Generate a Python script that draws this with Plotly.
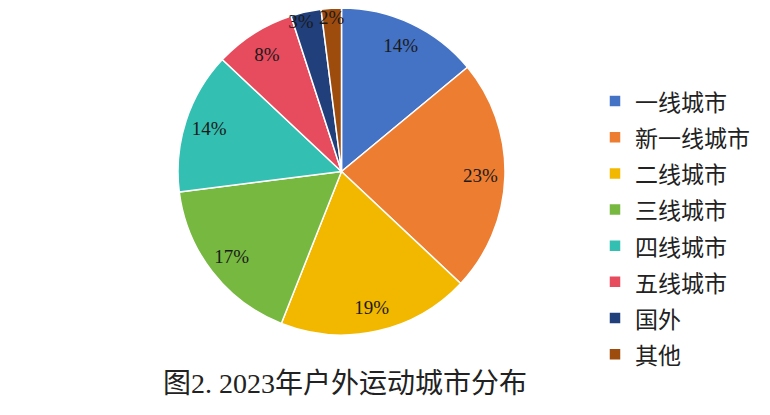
import plotly.graph_objects as go

categories = ["一线城市", "新一线城市", "二线城市", "三线城市", "四线城市", "五线城市", "国外", "其他"]
values = [14, 23, 19, 17, 14, 8, 3, 2]
colors = ["#4472C4", "#ED7D31", "#F2B800", "#76B840", "#33BFB1", "#E64B5E", "#203F7B", "#9E4B0E"]
title_text = "图2. 2023年户外运动城市分布"

W, H = 770, 415
OFF = 8  # page body margin
cx, cy, R = 341.5 - OFF, 171.5 - OFF, 163.5
dom = dict(x=[(cx - R) / W, (cx + R) / W], y=[1 - (cy + R) / H, 1 - (cy - R) / H])

label_font = dict(family="Liberation Serif", size=19, color="#1a1a1a")
pct = [f"{v}%" for v in values]
small = [v < 5 for v in values]
NB = "\u00a0"
# small labels sit side by side at the rim; pad the first so they do not collide
small_txt = [p + NB * 3 if v == 3 else p for v, p in zip(values, pct)]

fig = go.Figure()
# coloured pie with legend
fig.add_trace(go.Pie(
    labels=[f'<span style="font-size:23px">{c}</span>' for c in categories],
    values=values,
    sort=False,
    direction="clockwise",
    rotation=0,
    marker=dict(colors=colors, line=dict(color="white", width=1.5)),
    textinfo="none",
    domain=dom,
    hoverinfo="label+percent",
))
# transparent ring carrying the main percentage labels
fig.add_trace(go.Pie(
    labels=categories, values=values, sort=False, direction="clockwise", rotation=0,
    hole=0.7,
    marker=dict(colors=["rgba(0,0,0,0)"] * len(values), line=dict(width=0)),
    text=["" if s else p for s, p in zip(small, pct)],
    textinfo="text",
    textposition="inside",
    insidetextorientation="horizontal",
    textfont=label_font,
    domain=dom, showlegend=False, hoverinfo="skip",
))
# thin outer ring for labels of the smallest slices
fig.add_trace(go.Pie(
    labels=categories, values=values, sort=False, direction="clockwise", rotation=0,
    hole=0.88,
    marker=dict(colors=["rgba(0,0,0,0)"] * len(values), line=dict(width=0)),
    text=[t if s else "" for s, t in zip(small, small_txt)],
    textinfo="text",
    textposition="inside",
    insidetextorientation="horizontal",
    textfont=label_font,
    domain=dom, showlegend=False, hoverinfo="skip",
))

fig.update_layout(
    width=W, height=H,
    margin=dict(l=0, r=0, t=0, b=0),
    paper_bgcolor="white",
    plot_bgcolor="white",
    uniformtext=dict(minsize=19, mode="show"),
    showlegend=True,
    legend=dict(
        x=587 / W, xanchor="left",
        y=1 - 70 / H, yanchor="top",
        font=dict(family="Noto Sans CJK SC", size=25.5, color="#222222"),
        bgcolor="rgba(0,0,0,0)",
        traceorder="normal",
    ),
    annotations=[
        dict(text=title_text, x=337 / W, y=1 - 375 / H, xref="paper", yref="paper",
             xanchor="center", yanchor="middle", showarrow=False,
             font=dict(family="Liberation Serif, Noto Sans CJK SC", size=28, color="#222222")),
        dict(text="(", x=757 / W, y=1 - 202 / H, xref="paper", yref="paper",
             xanchor="left", yanchor="middle", showarrow=False,
             font=dict(family="Liberation Serif", size=20, color="#888888")),
    ],
)

fig.write_html("out.html")
